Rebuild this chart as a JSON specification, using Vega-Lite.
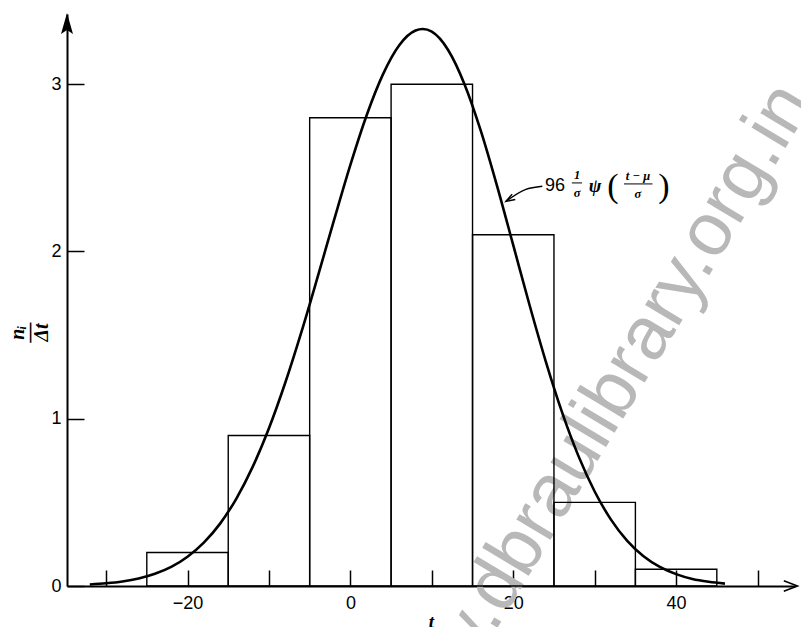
{
  "$schema": "https://vega.github.io/schema/vega-lite/v6.json",
  "width": 728,
  "height": 572,
  "autosize": {"type": "none"},
  "padding": {"left": 67, "top": 14, "right": 6, "bottom": 41},
  "background": "white",
  "config": {"view": {"stroke": null}},
  "datasets": {
    "bins": [
      {"t": -25, "t2": -15, "v": 0.2},
      {"t": -15, "t2": -5, "v": 0.9},
      {"t": -5, "t2": 5, "v": 2.8},
      {"t": 5, "t2": 15, "v": 3.0},
      {"t": 15, "t2": 25, "v": 2.1},
      {"t": 25, "t2": 35, "v": 0.5},
      {"t": 35, "t2": 45, "v": 0.1}
    ],
    "curve": [
      {"t": -32, "v": 0.009}, {"t": -30, "v": 0.016}, {"t": -28, "v": 0.027},
      {"t": -26, "v": 0.045}, {"t": -24, "v": 0.073}, {"t": -22, "v": 0.114},
      {"t": -20, "v": 0.175}, {"t": -18, "v": 0.259}, {"t": -16, "v": 0.373},
      {"t": -14, "v": 0.523}, {"t": -12, "v": 0.712}, {"t": -10, "v": 0.943},
      {"t": -8, "v": 1.215}, {"t": -6, "v": 1.521}, {"t": -4, "v": 1.851},
      {"t": -2, "v": 2.189}, {"t": 0, "v": 2.518}, {"t": 2, "v": 2.815},
      {"t": 4, "v": 3.059}, {"t": 6, "v": 3.233}, {"t": 8, "v": 3.321},
      {"t": 8.9, "v": 3.33}, {"t": 10, "v": 3.314}, {"t": 12, "v": 3.205},
      {"t": 14, "v": 3.002}, {"t": 16, "v": 2.724}, {"t": 18, "v": 2.394},
      {"t": 20, "v": 2.038}, {"t": 22, "v": 1.68}, {"t": 24, "v": 1.342},
      {"t": 26, "v": 1.038}, {"t": 28, "v": 0.778}, {"t": 30, "v": 0.565},
      {"t": 32, "v": 0.397}, {"t": 34, "v": 0.27}, {"t": 36, "v": 0.178},
      {"t": 38, "v": 0.114}, {"t": 40, "v": 0.071}, {"t": 42, "v": 0.042},
      {"t": 44, "v": 0.025}, {"t": 46, "v": 0.014}
    ],
    "leader": [
      {"t": 23.57, "v": 2.39}, {"t": 21.48, "v": 2.37}, {"t": 19.1, "v": 2.3}
    ],
    "leaderTip": [{"t": 19.1, "v": 2.3}],
    "label96": [{"t": 23.9, "v": 2.39, "text": "96"}],
    "labelPsi": [{"t": 30.04, "v": 2.39, "text": "ψ"}],
    "parens": [
      {"t": 32.25, "v": 2.386, "text": "("},
      {"t": 38.5, "v": 2.386, "text": ")"}
    ],
    "small": [
      {"t": 27.83, "v": 2.458, "text": "1"},
      {"t": 27.83, "v": 2.35, "text": "σ"},
      {"t": 35.32, "v": 2.452, "text": "t − μ"},
      {"t": 35.32, "v": 2.345, "text": "σ"}
    ],
    "fracBars": [
      {"t": 27.2, "t2": 28.45, "v": 2.41},
      {"t": 33.6, "t2": 37.1, "v": 2.404}
    ],
    "xEnd": [{"t": 54.6, "v": 0}],
    "yEnd": [{"t": -34.8, "v": 3.42}],
    "mark": [{"t": 29.8, "v": 0.969, "text": "www.dbraulibrary.org.in"}]
  },
  "encoding": {
    "x": {
      "field": "t",
      "type": "quantitative",
      "scale": {"domain": [-34.8, 54.6], "nice": false, "zero": false},
      "axis": {
        "values": [-30, -20, -10, 0, 10, 20, 30, 40, 50],
        "labelExpr": "datum.value % 20 === 0 ? datum.label : ''",
        "grid": false,
        "domainColor": "black",
        "domainWidth": 2,
        "tickColor": "black",
        "tickWidth": 1.5,
        "tickSize": -16,
        "labelPadding": 24,
        "labelFlush": false,
        "labelOverlap": false,
        "labelFont": "Liberation Sans",
        "labelFontSize": 18,
        "labelColor": "black",
        "title": "t",
        "titleFont": "Liberation Serif",
        "titleFontStyle": "italic",
        "titleFontWeight": "bold",
        "titleFontSize": 19,
        "titleColor": "black",
        "titleBaseline": "top",
        "titleY": 26
      }
    },
    "y": {
      "field": "v",
      "type": "quantitative",
      "scale": {"domain": [0, 3.42], "nice": false},
      "axis": {
        "values": [0, 1, 2, 3],
        "grid": false,
        "domainColor": "black",
        "domainWidth": 2,
        "tickColor": "black",
        "tickWidth": 1.5,
        "tickSize": -17,
        "labelPadding": 23,
        "labelFlush": false,
        "labelOverlap": false,
        "labelFont": "Liberation Sans",
        "labelFontSize": 18,
        "labelColor": "black",
        "title": ["nᵢ", "—", "Δt"],
        "titleFont": "Liberation Serif",
        "titleFontStyle": "italic",
        "titleFontWeight": "bold",
        "titleFontSize": 20,
        "titleLineHeight": 12,
        "titleColor": "black",
        "titleAngle": 270,
        "titleAlign": "center",
        "titleBaseline": "middle",
        "titleX": -50,
        "titleY": 318
      }
    }
  },
  "layer": [
    {
      "data": {"name": "mark"},
      "mark": {"type": "text", "font": "Liberation Sans", "fontWeight": "normal", "fontSize": 75, "color": "#b8b8b8", "angle": 301, "align": "center", "baseline": "middle"},
      "encoding": {"text": {"field": "text"}}
    },
    {
      "data": {"name": "bins"},
      "mark": {"type": "rect", "fill": null, "fillOpacity": 0, "stroke": "black", "strokeWidth": 1.4},
      "encoding": {"x2": {"field": "t2"}, "y2": {"datum": 0}}
    },
    {
      "data": {"name": "curve"},
      "mark": {"type": "line", "interpolate": "monotone", "color": "black", "strokeWidth": 2.6},
      "encoding": {}
    },
    {
      "data": {"name": "leader"},
      "mark": {"type": "line", "interpolate": "monotone", "color": "black", "strokeWidth": 1.4},
      "encoding": {}
    },
    {
      "data": {"name": "leaderTip"},
      "mark": {"type": "point", "shape": "M2,-0.7 L0,0 L2,0.7", "size": 81, "filled": false, "stroke": "black", "strokeWidth": 1.4, "opacity": 1, "angle": 330},
      "encoding": {}
    },
    {
      "data": {"name": "label96"},
      "mark": {"type": "text", "font": "Liberation Sans", "fontSize": 18, "color": "black", "align": "left", "baseline": "middle"},
      "encoding": {"text": {"field": "text"}}
    },
    {
      "data": {"name": "labelPsi"},
      "mark": {"type": "text", "font": "Liberation Serif", "fontStyle": "italic", "fontWeight": "bold", "fontSize": 19, "color": "black", "align": "center", "baseline": "middle"},
      "encoding": {"text": {"field": "text"}}
    },
    {
      "data": {"name": "parens"},
      "mark": {"type": "text", "font": "Liberation Serif", "fontSize": 34, "color": "black", "align": "center", "baseline": "middle"},
      "encoding": {"text": {"field": "text"}}
    },
    {
      "data": {"name": "small"},
      "mark": {"type": "text", "font": "Liberation Serif", "fontStyle": "italic", "fontWeight": "bold", "fontSize": 12.5, "color": "black", "align": "center", "baseline": "middle"},
      "encoding": {"text": {"field": "text"}}
    },
    {
      "data": {"name": "fracBars"},
      "mark": {"type": "rule", "color": "black", "strokeWidth": 1},
      "encoding": {"x2": {"field": "t2"}}
    },
    {
      "data": {"name": "xEnd"},
      "mark": {"type": "point", "shape": "M-1.6,-0.75 L0.35,0 L-1.6,0.75", "size": 196, "filled": false, "stroke": "black", "strokeWidth": 1.6, "opacity": 1},
      "encoding": {}
    },
    {
      "data": {"name": "yEnd"},
      "mark": {"type": "point", "shape": "M0,-0.1 L-0.6,2 L0,1.6 L0.6,2 Z", "size": 400, "filled": true, "fill": "black", "strokeWidth": 0, "opacity": 1},
      "encoding": {}
    }
  ]
}
